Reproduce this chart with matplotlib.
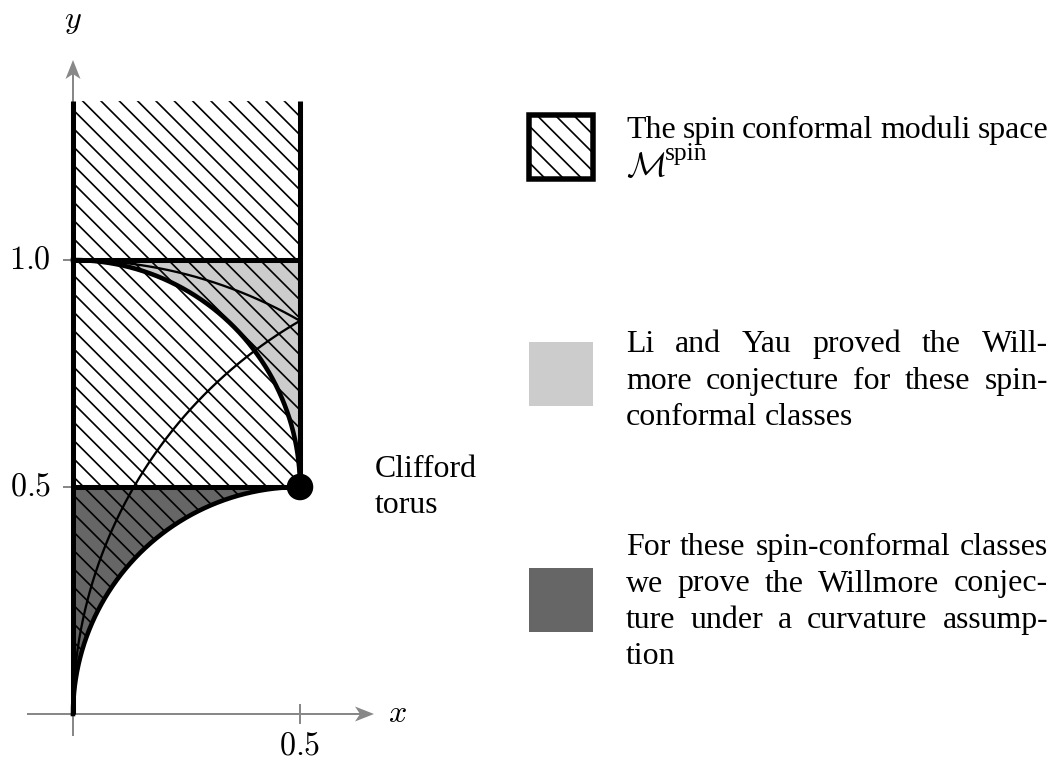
import numpy as np
import matplotlib
matplotlib.use("Agg")
import matplotlib.pyplot as plt
from matplotlib.patches import Polygon, Rectangle, Circle

# ---- data (units of the diagram) ----
x_left, x_right = 0.0, 0.5
y_top = 1.35
h_levels = [0.5, 1.0]                       # thick horizontal lines
# circle arcs: (cx, cy, r, start angle deg, end angle deg)
lower_arc = (0.5, 0.0, 0.5, 180, 90)        # lower boundary of the moduli space
upper_arc = (0.0, 0.5, 0.5, 90, 0)          # boundary of the Li-Yau region
thin_arcs = [(1.0, 0.0, 1.0, 180, 120),
             (0.0, 0.0, 1.0, 90, 60)]
clifford = (0.5, 0.5)
xticks = [0.5]
yticks = [0.5, 1.0]
xtick_labels = ["$0.5$"]
ytick_labels = ["$0.5$", "$1.0$"]

legend_colors = ["hatch", "#cccccc", "#666666"]
legend_text = [
    ["The spin conformal moduli space"],
    ["Li and Yau proved the Will-", "more conjecture for these spin-", "conformal classes"],
    ["For these spin-conformal classes", "we prove the Willmore conjec-",
     "ture under a curvature assump-", "tion"],
]
clifford_text = ["Clifford", "torus"]

# ---- figure setup: pixel layout ----
W, H, DPI = 1053, 761, 110
ox, oy, s = 73, 714, 454.0        # origin in px, px per unit

plt.rcParams["hatch.linewidth"] = 1.1
plt.rcParams["mathtext.fontset"] = "cm"
SERIF = "Liberation Serif"
FS = 20.9
MFS = 21

fig = plt.figure(figsize=(W / DPI, H / DPI), dpi=DPI)
ax = fig.add_axes([0, 0, 1, 1])
ax.set_xlim(-ox / s, (W - ox) / s)
ax.set_ylim((oy - H) / s, oy / s)
ax.axis("off")


def P(px, py):
    return (px - ox) / s, (oy - py) / s


def arc(cx, cy, r, a0, a1, n=200):
    t = np.radians(np.linspace(a0, a1, n))
    return cx + r * np.cos(t), cy + r * np.sin(t)


# ---- filled regions ----
ux, uy = arc(*upper_arc)
ax.fill(np.r_[ux, x_right, x_left], np.r_[uy, 1.0, 1.0], color="#cccccc", lw=0, zorder=1)
lx, ly = arc(*lower_arc)
ax.fill(np.r_[lx, x_left], np.r_[ly, 0.5], color="#666666", lw=0, zorder=1)
ax.fill(np.r_[lx, x_right, x_left], np.r_[ly, y_top, y_top],
        facecolor="none", edgecolor="black", hatch="\\\\", lw=0, zorder=2)

# ---- gray axes ----
gray = "#888888"
ax.plot([P(28, 0)[0], P(362, 0)[0]], [0, 0], color=gray, lw=1.3, zorder=0.5)
ax.plot([0, 0], [P(0, 735)[1], P(0, 70)[1]], color=gray, lw=1.3, zorder=0.5)


def arrowhead(tx, ty, direction):
    # stealth-like head, offsets in px
    shape = [(0, 0), (-19, 7.5), (-14, 0), (-19, -7.5)]
    pts = []
    for a, b in shape:
        if direction == "right":
            pts.append(P(tx + a, ty + b))
        else:
            pts.append(P(tx + b, ty - a))
    ax.add_patch(Polygon(pts, closed=True, color=gray, lw=0, zorder=0.5))


arrowhead(374, oy, "right")
arrowhead(ox, 60, "up")
for xv in xticks:
    ax.plot([xv, xv], [-9 / s, 9 / s], color=gray, lw=1.3, zorder=0.5)
for yv in yticks:
    ax.plot([-9 / s, 9 / s], [yv, yv], color=gray, lw=1.3, zorder=0.5)

for xv, lab in zip(xticks, xtick_labels):
    ax.text(xv, P(0, 746)[1], lab, ha="center", va="center", fontsize=MFS)
for yv, lab in zip(yticks, ytick_labels):
    ax.text(P(51, 0)[0], yv, lab, ha="right", va="center", fontsize=MFS)
ax.text(*P(397, 714), "$x$", ha="center", va="center", fontsize=MFS)
ax.text(*P(73, 20), "$y$", ha="center", va="center", fontsize=MFS)

# ---- curves ----
for cx, cy, r, a0, a1 in thin_arcs:
    ax.plot(*arc(cx, cy, r, a0, a1), color="black", lw=1.5, zorder=3)
ax.plot(lx, ly, color="black", lw=3.0, zorder=4)
ax.plot(ux, uy, color="black", lw=3.0, zorder=4)
ax.plot([x_left, x_left], [0, y_top], color="black", lw=3.3, zorder=4, solid_capstyle="butt")
ax.plot([x_right, x_right], [0.5, y_top], color="black", lw=3.3, zorder=4, solid_capstyle="butt")
for yv in h_levels:
    ax.plot([x_left, x_right], [yv, yv], color="black", lw=3.3, zorder=4, solid_capstyle="butt")
ax.add_patch(Circle(clifford, 12.5 / s, color="black", zorder=5))

# ---- legend ----
box_centers = [147, 374, 600]
bw = 64
for yc, col in zip(box_centers, legend_colors):
    x0, y0 = P(561 - bw / 2, yc + bw / 2)
    if col == "hatch":
        ax.add_patch(Rectangle((x0, y0), bw / s, bw / s, facecolor="white",
                               edgecolor="black", hatch="\\\\", lw=3.6, zorder=4))
    else:
        ax.add_patch(Rectangle((x0, y0), bw / s, bw / s, facecolor=col, lw=0, zorder=4))

renderer = fig.canvas.get_renderer()
space_px = 0.25 * FS * DPI / 72


def paragraph(lines, x0, x1, y0, dy, justify=True):
    for i, line in enumerate(lines):
        words = line.split(" ")
        texts = [ax.text(0, 0, w, fontsize=FS, family=SERIF, va="baseline", ha="left")
                 for w in words]
        widths = [t.get_window_extent(renderer).width for t in texts]
        gap = space_px
        if justify and len(words) > 1 and (i < len(lines) - 1 or len(lines) == 1):
            gap = ((x1 - x0) - sum(widths)) / (len(words) - 1)
        x = x0
        for t, w in zip(texts, widths):
            t.set_position(P(x, y0 + i * dy))
            x += w + gap


paragraph(legend_text[0], 626, 1048, 138, 36)
# second line of the first entry: M^spin
ax.text(*P(626, 176), r"$\mathcal{M}$", fontsize=MFS + 1, va="baseline", ha="left")
ax.text(*P(665, 160), "spin", fontsize=FS * 0.8, family=SERIF, va="baseline", ha="left")
paragraph(legend_text[1], 626, 1048, 352, 36.5)
paragraph(legend_text[2], 626, 1048, 555, 36.5)
paragraph(clifford_text, 375, 460, 477, 36, justify=False)

fig.savefig("out.png", dpi=DPI)
